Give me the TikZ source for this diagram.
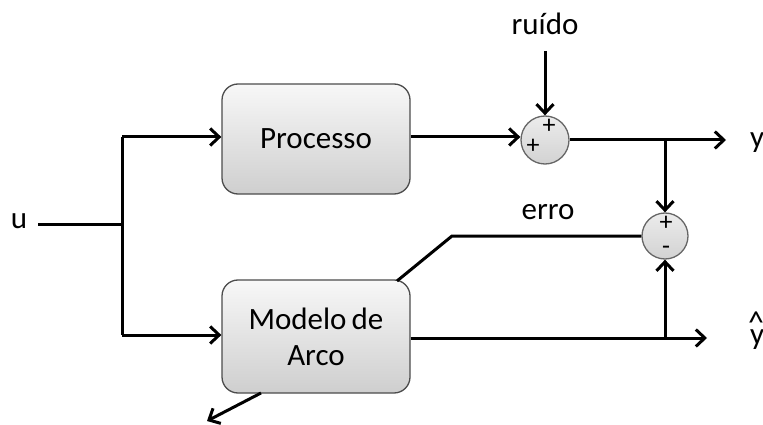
\documentclass[tikz,border=0pt]{standalone}
\usepackage{fontspec}
\setmainfont{Carlito}
\usetikzlibrary{arrows.meta}
\begin{document}
\begin{tikzpicture}[x=1pt,y=-1pt,
  blk/.style={draw=black!70,line width=1.3pt,rounded corners=16pt,
    top color=gray!6,bottom color=gray!38,minimum width=188pt,align=center,
    font=\fontsize{31}{36}\selectfont},
  sumnode/.style={circle,draw=black!60,line width=1.3pt,minimum size=48pt,
    inner sep=0pt,top color=gray!15,bottom color=gray!35},
  sig/.style={font=\fontsize{26}{26}\selectfont,inner sep=0pt},
  lbl/.style={font=\fontsize{31}{32}\selectfont,inner sep=0pt},
  wire/.style={line width=3pt},
  arr/.style={wire,-{Straight Barb[length=9pt,width=17pt,line width=3pt]}}]
\useasboundingbox (0,0) rectangle (763,425);

% blocks
\node[blk,minimum height=110pt] (proc) at (316,139) {Processo};
\node[blk,minimum height=113pt] (model) at (316,336.5)
  {Modelo\,de\\Arco};

% summing junctions
\node[sumnode] (s1) at (545,140) {};
\node[sumnode,minimum size=46pt] (s2) at (665,236) {};
\node[sig] at (549,126) {+};
\node[sig] at (533,146) {+};
\node[sig] at (666,223) {+};
\node[sig] at (666,250) {-};

% labels
\node[lbl] (u) at (19,221) {u};
\node[lbl] (noise) at (545,24) {ruído};
\node[lbl] (err) at (548,212) {erro};
\node[lbl,anchor=base west] (y) at (750,148) {y};
\node[lbl,anchor=base west] (yl) at (750,344) {y};
\node[lbl,anchor=base,font=\fontsize{32}{32}\selectfont] (hat) at (756,333)
  {\raisebox{0pt}[0.62em][0pt]{\^{}}};

% helper points
\coordinate (split) at (122,224);
\coordinate (top) at (122,137);
\coordinate (bot) at (122,335);
\coordinate (yend) at (726,140);
\coordinate (yhend) at (707,338);
\coordinate (tap1) at (665,140);
\coordinate (tap2) at (665,338);
\coordinate (ebend) at (452,236);
\coordinate (eout) at (397,281);
\coordinate (adapt) at (207,421);

% input distribution
\draw[wire] (38,224) -- (split);
\draw[wire] (top) -- (bot);
\draw[arr] (top) -- (proc.west |- top);
\draw[arr] (bot) -- (proc.west |- bot);

% process path
\draw[arr] (proc.east |- 0,137) -- (s1.west |- 0,137);
\draw[arr] (545,51) -- (s1.north);
\draw[arr] (s1.east) -- (yend);
\draw[arr] (tap1) -- (s2.north);

% model path
\draw[arr] (model.east |- yhend) -- (yhend);
\draw[arr] (tap2) -- (s2.south);

% error feedback
\draw[wire] (s2.west) -- (ebend) -- (eout);
\draw[arr] (261,393) -- (adapt);
\end{tikzpicture}
\end{document}
